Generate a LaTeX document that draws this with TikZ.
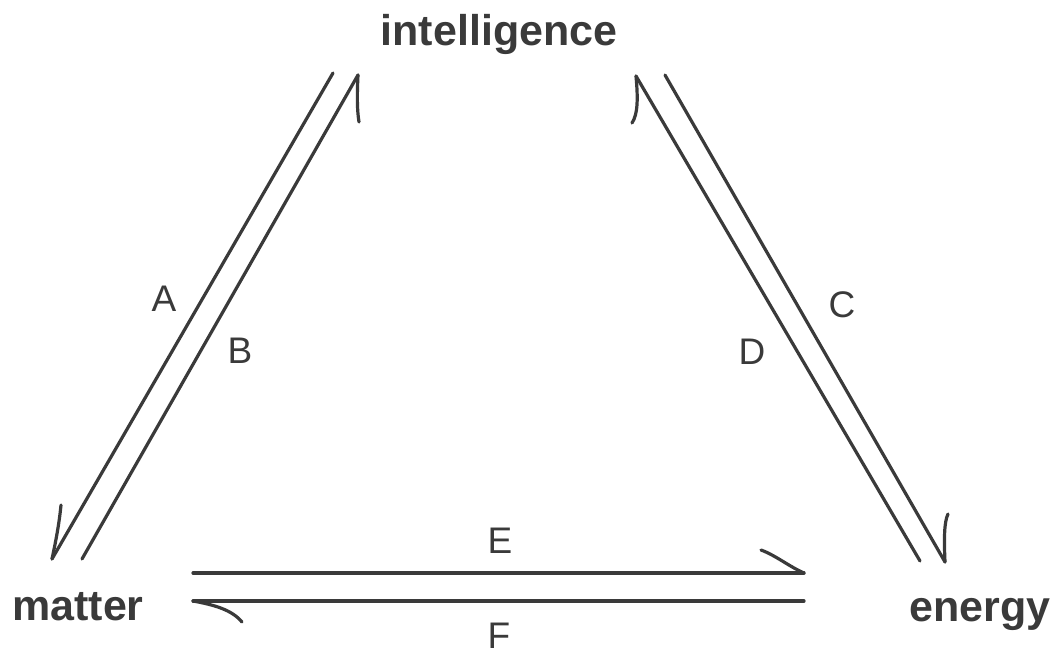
\documentclass[tikz,border=0pt]{standalone}
\usepackage{fontspec}
\setmainfont{Liberation Sans}
\definecolor{ink}{HTML}{3A3A3A}
\tikzset{
  line/.style={draw=ink, line width=3.2pt, line cap=round, line join=round},
  barb/.style={draw=ink, line width=3.2pt, line cap=round},
  word/.style={text=ink, font=\fontsize{43}{48}\selectfont\bfseries, anchor=base, inner sep=0pt},
  letter/.style={text=ink, font=\fontsize{37}{42}\selectfont, anchor=center, inner sep=0pt}
}
\begin{document}
\begin{tikzpicture}[x=1pt,y=-1pt]
\useasboundingbox (0,0) rectangle (1057,656);
% labels
\node[word] (int) at (499,45) {intelligence};
\node[word] (mat) at (78,620) {matter};
\node[word] (ene) at (980,621) {energy};
\node[letter] (la) at (164,299) {A};
\node[letter] (lb) at (240,351) {B};
\node[letter] (lc) at (842,305) {C};
\node[letter] (ld) at (752,352) {D};
\node[letter] (le) at (500,541) {E};
\node[letter] (lf) at (499,636) {F};
% end points
\coordinate (a1) at (333,73);  \coordinate (a2) at (52,559);
\coordinate (b1) at (82,559);  \coordinate (b2) at (358,75);
\coordinate (d1) at (920,561); \coordinate (d2) at (636,76);
\coordinate (c1) at (665,75);  \coordinate (c2) at (945,562);
\coordinate (e1) at (193,573); \coordinate (e2) at (804,573);
\coordinate (f1) at (804,601); \coordinate (f2) at (193,601);
% lines
\draw[line] (a1) -- (a2);
\draw[line] (b1) -- (b2);
\draw[line] (d1) -- (d2);
\draw[line] (c1) -- (c2);
\draw[line] (e1) -- (e2);
\draw[line] (f1) -- (f2);
% harpoon barbs
\draw[barb] (a2) .. controls (56,540) and (59,525) .. (61,505);
\draw[barb] (b2) .. controls (357,95) and (357,110) .. (359,122);
\draw[barb] (d2) .. controls (638,98) and (638,114) .. (632,123);
\draw[barb] (c2) .. controls (944,540) and (944,522) .. (948,514);
\draw[barb] (e2) .. controls (790,567) and (775,555) .. (761,550);
\draw[barb] (f2) .. controls (215,605) and (232,610) .. (242,622);
\end{tikzpicture}
\end{document}
